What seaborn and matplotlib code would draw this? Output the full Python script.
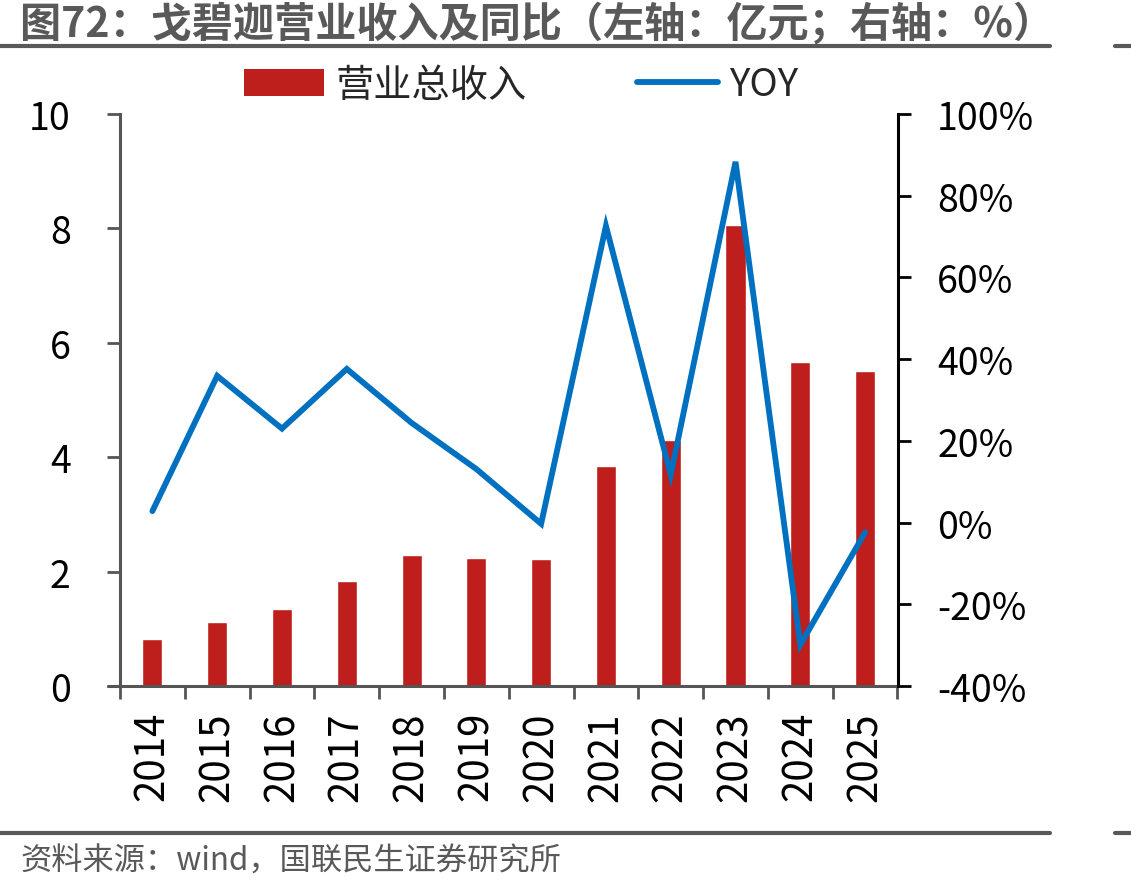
import matplotlib
matplotlib.use("Agg")
import matplotlib.pyplot as plt
from matplotlib.lines import Line2D
from matplotlib.patches import Patch
import seaborn as sns
import pandas as pd
import numpy as np

years = ["2014", "2015", "2016", "2017", "2018", "2019", "2020",
         "2021", "2022", "2023", "2024", "2025"]
revenue = [0.82, 1.12, 1.34, 1.84, 2.29, 2.24, 2.22, 3.85, 4.30, 8.06, 5.66, 5.51]
yoy = [2.8, 35.9, 23.0, 37.6, 24.4, 13.1, -0.3, 72.6, 11.7, 88.3, -29.9, -2.4]
left_ticks = [0, 2, 4, 6, 8, 10]
right_ticks = [-40, -20, 0, 20, 40, 60, 80, 100]

title = "图72：戈碧迦营业收入及同比（左轴：亿元；右轴：%）"
source = "资料来源：wind，国联民生证券研究所"
bar_label = "营业总收入"
line_label = "YOY"

sns.set_theme(style="white")
plt.rcParams["font.family"] = ["Noto Sans CJK SC", "DejaVu Sans"]

RED = "#BE1E1C"
BLUE = "#0070C0"
GRAY = "#595959"
AX_GRAY = "#555555"

df = pd.DataFrame({"year": years, "revenue": revenue, "yoy": yoy})

fig = plt.figure(figsize=(11.31, 8.95), dpi=100)
ax = fig.add_axes([120 / 1131, 1 - 687 / 895, (897.5 - 120) / 1131, (687 - 115) / 895])

sns.barplot(data=df, x="year", y="revenue", color=RED, width=0.31,
            saturation=1, ax=ax)
ax.set_ylim(0, 10)
ax.set_xlim(-0.5, len(years) - 0.5)
ax.set_yticks(left_ticks)
ax.set_yticklabels([str(t) for t in left_ticks])
ax.set_xlabel("")
ax.set_ylabel("")

ax2 = ax.twinx()
sns.lineplot(x=np.arange(len(years)), y=yoy, color=BLUE, linewidth=4.2,
             ax=ax2, sort=False, solid_capstyle="round", solid_joinstyle="miter")
ax2.set_ylim(-40, 100)
ax2.set_yticks(right_ticks)
ax2.set_yticklabels([f"{t}%" for t in right_ticks])
ax2.set_xlim(-0.5, len(years) - 0.5)
ax2.set_ylabel("")

# spines
for a in (ax, ax2):
    a.spines["top"].set_visible(False)
ax.spines["right"].set_visible(False)
ax.spines["left"].set_color(AX_GRAY)
ax.spines["left"].set_linewidth(2.2)
ax.spines["bottom"].set_color(AX_GRAY)
ax.spines["bottom"].set_linewidth(2.2)
ax2.spines["left"].set_visible(False)
ax2.spines["bottom"].set_visible(False)
ax2.spines["right"].set_color("black")
ax2.spines["right"].set_linewidth(2.2)

# ticks
ax.tick_params(axis="y", direction="out", length=9.5, width=2.0, color=AX_GRAY,
               labelsize=27, labelcolor="black", pad=26, left=True)
ax.set_xticks(np.arange(len(years)))
ax.set_xticklabels(years, rotation=90)
ax.tick_params(axis="x", which="major", length=0, labelsize=29, labelcolor="black", pad=18,
               bottom=True)
ax.set_xticks(np.arange(len(years) + 1) - 0.5, minor=True)
ax.tick_params(axis="x", which="minor", direction="out", length=9, width=2.0,
               color=AX_GRAY, bottom=True)
ax2.tick_params(axis="y", direction="out", length=9.5, width=2.0, color="black",
                labelsize=27, labelcolor="black", pad=19, right=True)

# extend bottom axis slightly to the left of the left spine
ax.add_line(Line2D([-0.016, 0], [0, 0], transform=ax.transAxes, color=AX_GRAY,
                   linewidth=2.2, clip_on=False))

# legend
handles = [Patch(facecolor=RED, edgecolor="none", label=bar_label),
           Line2D([0], [0], color=BLUE, linewidth=4.2, label=line_label)]
fig.legend(handles=handles, loc="center", bbox_to_anchor=(521 / 1131, 1 - 86 / 895),
           ncol=2, frameon=False, fontsize=27.5, handlelength=2.1, handleheight=0.7,
           handletextpad=0.3, columnspacing=2.9, borderpad=0)

# title & rules
fig.text(20 / 1131, 1 - 24 / 895, title, fontsize=29.6, fontweight="bold", color=GRAY,
         ha="left", va="center")
fig.add_artist(Line2D([0, 1050 / 1131], [1 - 47 / 895] * 2, color=GRAY, linewidth=3,
                      transform=fig.transFigure))
fig.add_artist(Line2D([1115 / 1131, 1], [1 - 47 / 895] * 2, color=GRAY, linewidth=3,
                      transform=fig.transFigure))
fig.add_artist(Line2D([0, 1050 / 1131], [1 - 834 / 895] * 2, color=GRAY, linewidth=3,
                      transform=fig.transFigure))
fig.add_artist(Line2D([1115 / 1131, 1], [1 - 834 / 895] * 2, color=GRAY, linewidth=3,
                      transform=fig.transFigure))
fig.text(20 / 1131, 1 - 862 / 895, source, fontsize=22.5, color=GRAY, ha="left", va="center")

fig.savefig("out.png", dpi=100)
